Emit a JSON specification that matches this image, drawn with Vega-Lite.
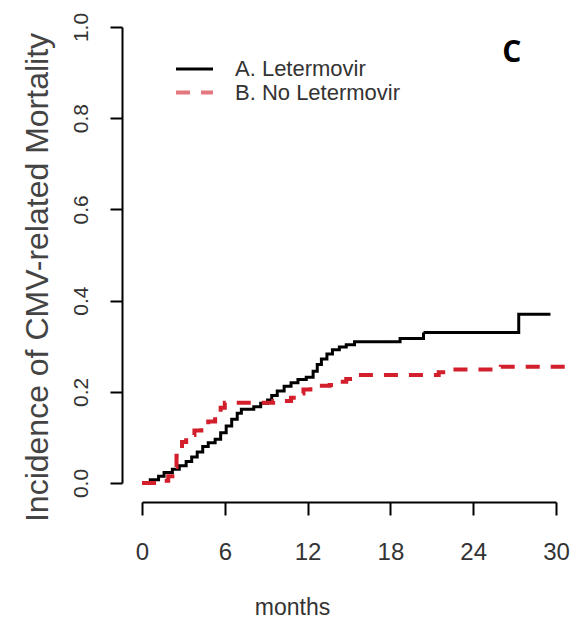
{
  "$schema": "https://vega.github.io/schema/vega-lite/v6.json",
  "autosize": "none",
  "width": 414,
  "height": 456,
  "padding": {"left": 142, "top": 27, "right": 18, "bottom": 138},
  "background": "white",
  "config": {
    "view": {"stroke": null},
    "font": "Liberation Sans"
  },
  "layer": [
    {
      "data": {
        "values": [
          {"g": "A. Letermovir", "m": 0, "v": 0},
          {"g": "A. Letermovir", "m": 0.6, "v": 0.007},
          {"g": "A. Letermovir", "m": 1.2, "v": 0.015},
          {"g": "A. Letermovir", "m": 1.6, "v": 0.023},
          {"g": "A. Letermovir", "m": 2.2, "v": 0.03},
          {"g": "A. Letermovir", "m": 2.7, "v": 0.038},
          {"g": "A. Letermovir", "m": 3.2, "v": 0.047},
          {"g": "A. Letermovir", "m": 3.6, "v": 0.057},
          {"g": "A. Letermovir", "m": 4.0, "v": 0.068},
          {"g": "A. Letermovir", "m": 4.4, "v": 0.08},
          {"g": "A. Letermovir", "m": 4.8, "v": 0.088},
          {"g": "A. Letermovir", "m": 5.3, "v": 0.096},
          {"g": "A. Letermovir", "m": 5.7, "v": 0.11},
          {"g": "A. Letermovir", "m": 6.1, "v": 0.125},
          {"g": "A. Letermovir", "m": 6.5, "v": 0.14},
          {"g": "A. Letermovir", "m": 6.9, "v": 0.153},
          {"g": "A. Letermovir", "m": 7.2, "v": 0.162},
          {"g": "A. Letermovir", "m": 8.1, "v": 0.167},
          {"g": "A. Letermovir", "m": 8.6, "v": 0.175},
          {"g": "A. Letermovir", "m": 9.1, "v": 0.182},
          {"g": "A. Letermovir", "m": 9.4, "v": 0.192},
          {"g": "A. Letermovir", "m": 9.8, "v": 0.202},
          {"g": "A. Letermovir", "m": 10.3, "v": 0.212},
          {"g": "A. Letermovir", "m": 10.8, "v": 0.22},
          {"g": "A. Letermovir", "m": 11.3, "v": 0.227},
          {"g": "A. Letermovir", "m": 11.9, "v": 0.232},
          {"g": "A. Letermovir", "m": 12.4, "v": 0.245},
          {"g": "A. Letermovir", "m": 12.7, "v": 0.26},
          {"g": "A. Letermovir", "m": 13.0, "v": 0.272},
          {"g": "A. Letermovir", "m": 13.4, "v": 0.283},
          {"g": "A. Letermovir", "m": 13.8, "v": 0.292},
          {"g": "A. Letermovir", "m": 14.3, "v": 0.298},
          {"g": "A. Letermovir", "m": 14.8, "v": 0.303},
          {"g": "A. Letermovir", "m": 15.4, "v": 0.31},
          {"g": "A. Letermovir", "m": 18.7, "v": 0.317},
          {"g": "A. Letermovir", "m": 20.4, "v": 0.33},
          {"g": "A. Letermovir", "m": 27.3, "v": 0.37},
          {"g": "A. Letermovir", "m": 29.6, "v": 0.37},
          {"g": "B. No Letermovir", "m": 0, "v": 0},
          {"g": "B. No Letermovir", "m": 1.5, "v": 0.005},
          {"g": "B. No Letermovir", "m": 1.9, "v": 0.015},
          {"g": "B. No Letermovir", "m": 2.2, "v": 0.035},
          {"g": "B. No Letermovir", "m": 2.5, "v": 0.06},
          {"g": "B. No Letermovir", "m": 2.9, "v": 0.09},
          {"g": "B. No Letermovir", "m": 3.2, "v": 0.105},
          {"g": "B. No Letermovir", "m": 3.8, "v": 0.115},
          {"g": "B. No Letermovir", "m": 4.3, "v": 0.125},
          {"g": "B. No Letermovir", "m": 4.8, "v": 0.135},
          {"g": "B. No Letermovir", "m": 5.3, "v": 0.15},
          {"g": "B. No Letermovir", "m": 5.7, "v": 0.165},
          {"g": "B. No Letermovir", "m": 6.0, "v": 0.176},
          {"g": "B. No Letermovir", "m": 9.5, "v": 0.18},
          {"g": "B. No Letermovir", "m": 10.8, "v": 0.187},
          {"g": "B. No Letermovir", "m": 11.2, "v": 0.196},
          {"g": "B. No Letermovir", "m": 11.7, "v": 0.205},
          {"g": "B. No Letermovir", "m": 12.2, "v": 0.213},
          {"g": "B. No Letermovir", "m": 13.6, "v": 0.215},
          {"g": "B. No Letermovir", "m": 14.2, "v": 0.222},
          {"g": "B. No Letermovir", "m": 14.8, "v": 0.228},
          {"g": "B. No Letermovir", "m": 15.5, "v": 0.237},
          {"g": "B. No Letermovir", "m": 21.5, "v": 0.243},
          {"g": "B. No Letermovir", "m": 22.3, "v": 0.249},
          {"g": "B. No Letermovir", "m": 26.0, "v": 0.255},
          {"g": "B. No Letermovir", "m": 31.0, "v": 0.257}
        ]
      },
      "mark": {"type": "line", "interpolate": "step-after", "clip": false},
      "encoding": {
        "x": {
          "field": "m", "type": "quantitative",
          "scale": {"domain": [0, 30], "nice": false, "zero": false},
          "axis": {
            "values": [0, 6, 12, 18, 24, 30],
            "offset": 19,
            "grid": false,
            "domainColor": "black", "domainWidth": 2,
            "tickColor": "black", "tickWidth": 2, "tickSize": 13,
            "labelFontSize": 24, "labelColor": "#333", "labelBaseline": "top", "labelPadding": 25,
            "labelFlush": false,
            "title": "months",
            "titleFontSize": 23, "titleFontWeight": "normal", "titleColor": "#333",
            "titleX": 150, "titleY": 112, "titleBaseline": "alphabetic", "titleAlign": "center"
          }
        },
        "y": {
          "field": "v", "type": "quantitative",
          "scale": {"domain": [0, 1], "nice": false},
          "axis": {
            "values": [0, 0.2, 0.4, 0.6, 0.8, 1.0],
            "format": ".1f",
            "offset": 20,
            "grid": false,
            "domainColor": "black", "domainWidth": 2,
            "tickColor": "black", "tickWidth": 2, "tickSize": 12,
            "labelFontSize": 21, "labelColor": "#333", "labelAngle": 270,
            "labelAlign": "center", "labelBaseline": "alphabetic", "labelPadding": 23,
            "labelFlush": false,
            "title": "Incidence of CMV-related Mortality",
            "titleFontSize": 32, "titleFontWeight": "normal", "titleColor": "#444",
            "titleAngle": 270, "titleX": -75, "titleY": 250, "titleBaseline": "alphabetic", "titleAlign": "center"
          }
        },
        "color": {
          "field": "g", "type": "nominal",
          "scale": {"domain": ["A. Letermovir", "B. No Letermovir"], "range": ["black", "#d21f2b"]},
          "legend": {
            "title": null,
            "orient": "none",
            "legendX": 40,
            "legendY": 30,
            "symbolType": "M-1.76,0H1.76",
            "symbolSize": 441,
            "symbolStrokeWidth": 1.5,
            "symbolFillColor": "transparent",
            "labelFontSize": 22,
            "labelLimit": 400,
            "labelColor": "#333",
            "labelOffset": 28,
            "rowPadding": 0,
            "padding": 0,
            "encode": {
              "symbols": {
                "update": {
                  "fill": {"value": "transparent"},
                  "strokeDash": {"signal": "datum.value == 'B. No Letermovir' ? [5, 5] : [1, 0]"},
                  "opacity": {"signal": "datum.value == 'B. No Letermovir' ? 0.6 : 1"}
                }
              }
            }
          }
        },
        "strokeDash": {
          "field": "g", "type": "nominal",
          "scale": {"domain": ["A. Letermovir", "B. No Letermovir"], "range": [[1, 0], [14, 11]]},
          "legend": null
        },
        "strokeWidth": {
          "field": "g", "type": "nominal",
          "scale": {"domain": ["A. Letermovir", "B. No Letermovir"], "range": [3, 4]},
          "legend": null
        }
      }
    },
    {
      "data": {"values": [{"label": "C", "m": 26.8, "v": 0.943}]},
      "mark": {"type": "text", "font": "Open Sans", "fontWeight": "bold", "fontSize": 30, "color": "black", "baseline": "middle", "align": "center"},
      "encoding": {
        "x": {"field": "m", "type": "quantitative"},
        "y": {"field": "v", "type": "quantitative"},
        "text": {"field": "label", "type": "nominal"}
      }
    }
  ]
}
